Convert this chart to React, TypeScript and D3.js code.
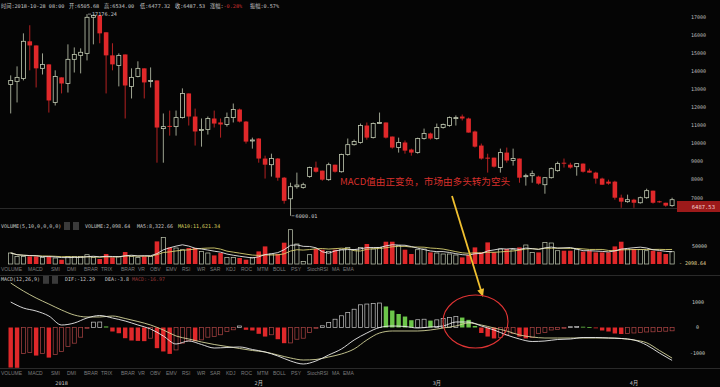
import React, { useEffect } from 'react';
import * as d3 from 'd3';

const width = 720;
const height = 387;

// daily candles, 2017-12-24 .. 2018-04-07
const opens = [13280, 13440, 13610, 15670, 15440, 14170, 14390, 12280, 13670, 13330, 14670, 14890, 15000, 17000, 17110, 16170, 14890, 14330, 14940, 13170, 13720, 14170, 13440, 13500, 10830, 10980, 10940, 11440, 12780, 11500, 10720, 10780, 11390, 11170, 11060, 11440, 11890, 11220, 10150, 10280, 9170, 8830, 9170, 8110, 6940, 7610, 7560, 8170, 8670, 8500, 8000, 8830, 8440, 9390, 9940, 10060, 11000, 10330, 11110, 11170, 10390, 9780, 10060, 9670, 9500, 10280, 10560, 10280, 10890, 11000, 11390, 11500, 11390, 10670, 9890, 9220, 9220, 8670, 9500, 9060, 9170, 8200, 8220, 8170, 7720, 8110, 8500, 8940, 8830, 8720, 8890, 8500, 8390, 8060, 7890, 7890, 7000, 6780, 6890, 6720, 7000, 7390, 6800, 6720, 6560];
const highs = [13780, 14280, 16110, 16560, 15440, 15000, 14390, 14060, 13670, 15500, 15330, 15280, 17176.24, 17150, 17110, 16170, 15560, 15000, 14940, 14170, 14560, 14170, 14220, 13500, 11670, 11830, 11830, 13060, 12780, 11940, 11390, 11500, 11830, 11390, 11720, 12220, 11940, 11250, 10330, 10300, 9330, 9440, 9200, 8150, 7830, 8390, 7830, 8720, 9000, 8500, 8940, 8830, 9440, 10280, 10220, 11110, 11170, 11170, 11720, 11170, 10390, 10330, 10170, 9720, 10330, 10830, 10610, 11110, 11110, 11500, 11560, 11610, 11440, 10720, 10000, 9440, 9220, 9720, 9780, 9720, 9170, 8330, 8500, 8220, 8110, 8670, 9000, 9170, 8940, 8890, 8900, 8610, 8440, 8110, 8000, 7940, 7170, 7170, 6940, 7060, 7500, 7390, 6830, 6720, 7000];
const lows = [11670, 12280, 13500, 14060, 13110, 13830, 11720, 12110, 12780, 12830, 13940, 13890, 14610, 15500, 15560, 12780, 14060, 13170, 11390, 12500, 13670, 12500, 13110, 8940, 8940, 10440, 10440, 11390, 11000, 9890, 9830, 10500, 10890, 10330, 10940, 11170, 11170, 10000, 9720, 8940, 8060, 8170, 7940, 6670, 6000.01, 7500, 7500, 8110, 8390, 7940, 7940, 8390, 8390, 9330, 9890, 10000, 10220, 10280, 11110, 10280, 9720, 9500, 9440, 9330, 9440, 10220, 10220, 10220, 10830, 10940, 11000, 11280, 10610, 9780, 9110, 8390, 8670, 8390, 8940, 8780, 7830, 7670, 7830, 7720, 7220, 8060, 8440, 8670, 8610, 8220, 8390, 8390, 7780, 7720, 7720, 6890, 6440, 6720, 6440, 6670, 6940, 6670, 6720, 6500, 6500];
const closes = [13500, 13670, 15670, 15440, 14170, 14390, 12390, 13720, 13330, 14670, 14940, 15060, 17000, 17110, 16110, 14890, 14390, 14890, 13220, 13670, 14170, 13390, 13500, 10890, 10940, 10940, 11440, 12780, 11500, 10670, 10780, 11390, 11110, 11060, 11440, 11890, 11220, 10110, 10200, 9170, 8830, 9170, 8110, 6830, 7610, 7700, 7720, 8670, 8440, 8000, 8830, 8440, 9390, 9940, 10110, 11000, 10330, 11110, 11170, 10330, 9780, 10060, 9610, 9500, 10280, 10560, 10280, 10890, 11060, 11440, 11440, 11390, 10610, 9830, 9170, 9200, 8720, 9500, 9060, 9170, 8110, 8220, 8330, 7780, 8110, 8610, 8890, 8900, 8670, 8890, 8440, 8390, 8060, 7720, 7780, 7000, 6780, 6890, 6720, 7000, 7390, 6720, 6780, 6560, 6890];
const volumes = [30600, 21100, 21100, 21100, 21100, 18300, 21100, 16700, 11900, 21100, 21100, 21100, 25800, 18300, 13900, 27800, 18300, 21100, 33300, 21100, 18300, 21100, 21100, 62800, 73900, 46100, 44400, 39700, 44400, 44400, 35000, 30600, 23900, 30600, 18300, 18300, 16700, 11900, 18300, 35000, 48900, 27800, 27800, 59200, 95300, 55600, 7200, 25800, 41700, 39700, 35000, 39700, 39700, 46100, 39700, 46100, 55600, 41700, 46100, 61900, 61900, 50800, 39700, 27800, 39700, 41700, 32200, 30600, 27800, 27800, 25000, 18300, 25000, 46100, 32200, 60000, 32200, 41700, 41700, 39700, 46100, 52800, 32200, 32200, 60000, 58300, 36900, 36900, 36900, 39700, 34200, 36900, 32200, 32200, 32200, 48900, 61900, 41700, 41700, 39700, 36900, 36900, 34200, 27800, 34200];

// MACD histogram, one value per candle
const macdHist = [-1570, -1580, -1020, -980, -1100, -1020, -1180, -1060, -940, -745, -615, -380, -20, 210, 215, 40, -157, -225, -420, -510, -525, -535, -420, -810, -940, -1035, -880, -615, -525, -535, -485, -380, -355, -285, -157, -90, 60, -90, -118, -247, -355, -285, -460, -615, -605, -460, -420, -196, -20, 67, 196, 325, 460, 590, 717, 890, 920, 940, 960, 825, 665, 530, 430, 285, 305, 325, 270, 300, 355, 390, 430, 390, 300, 60, -215, -355, -430, -390, -295, -235, -355, -430, -390, -235, -196, -98, -78, -20, 30, 40, 30, 12, -20, -118, -157, -235, -255, -235, -215, -196, -176, -169, -157, -145, -130];
// DIF / DEA read every second candle: [candle number, value]
const difPoints = [[1, 1000], [3, 764], [5, 647], [7, 451], [9, 98], [11, 176], [13, 372], [15, 470], [17, 372], [19, 255], [21, 98], [23, -59], [25, -333], [27, -647], [29, -529], [31, -666], [33, -804], [35, -784], [37, -764], [39, -862], [41, -960], [43, -1117], [45, -1313], [47, -1431], [49, -1313], [51, -1078], [53, -843], [55, -490], [57, -216], [59, 0], [61, 59], [63, 39], [65, -20], [67, 20], [69, 59], [71, 216], [73, 216], [75, 59], [77, -98], [79, -294], [81, -451], [83, -549], [85, -529], [87, -470], [89, -451], [91, -392], [93, -392], [95, -412], [97, -431], [99, -490], [101, -690], [103, -1000], [105, -1290]];
const deaPoints = [[1, 1744], [3, 1430], [5, 1156], [7, 921], [9, 686], [11, 490], [13, 412], [15, 412], [17, 451], [19, 353], [21, 235], [23, 98], [25, -98], [27, -333], [29, -451], [31, -568], [33, -666], [35, -745], [37, -823], [39, -902], [41, -960], [43, -1078], [45, -1196], [47, -1274], [49, -1254], [51, -1156], [53, -1039], [55, -843], [57, -490], [59, -216], [61, -137], [63, -137], [65, -137], [67, -98], [69, -20], [71, 59], [73, 176], [75, 98], [77, -20], [79, -137], [81, -294], [83, -372], [85, -412], [87, -412], [89, -412], [91, -412], [93, -412], [95, -412], [97, -431], [99, -490], [101, -600], [103, -900], [105, -1200]];

const priceTicks = [7000, 8000, 9000, 10000, 11000, 12000, 13000, 14000, 15000, 16000, 17000];
const monthCandles = [9, 40, 68, 99];
const monthLabels = ['2018', '2月', '3月', '4月'];
const tabNames = ['VOLUME', 'MACD', 'SMI', 'DMI', 'BRAR', 'TRIX', 'BRAR', 'VR', 'OBV', 'EMV', 'RSI', 'WR', 'SAR', 'KDJ', 'ROC', 'MTM', 'BOLL', 'PSY', 'StochRSI', 'MA', 'EMA'];
const tabLeft = [0, 27, 50, 66, 83, 100, 120, 137, 149, 165, 181, 196, 209, 225, 240, 256, 272, 290, 306, 331, 342];

const RED = '#e0282a';
const UP = '#c4ccb4';
const BG = '#050505';
const mono = "'DejaVu Sans Mono', 'Noto Sans CJK SC', monospace";

const movingAvg = (arr: number[], n: number) =>
  arr.map((_, i) => d3.mean(arr.slice(Math.max(0, i - n + 1), i + 1)) as number);

const Tabs = ({ y }: { y: number }) => (
  <g fontFamily="'Liberation Sans', Arial, sans-serif" fontSize={5} fill="#7c7c7c">
    {tabNames.map((t, i) => (
      <text key={i} x={tabLeft[i] + 1} y={y}>{t}</text>
    ))}
  </g>
);

export default function App() {
  useEffect(() => {
    document.body.style.margin = '0';
    document.body.style.background = BG;
  }, []);

  const n = closes.length;
  const x = d3.scaleLinear().domain([1, n]).range([10.7, 672.1]);
  const y = d3.scaleLinear().domain([7000, 17000]).range([197.7, 17.3]);
  const yVol = d3.scaleLinear().domain([0, 50000]).range([264, 246]);
  const yMacd = d3.scaleLinear().domain([-1000, 1000]).range([353, 302]);

  const bodyW = 4;
  const ma5 = movingAvg(volumes, 5);
  const ma10 = movingAvg(volumes, 10);
  const volLine = d3.line<number>().x((_, i) => x(i + 1)).y(v => yVol(v));
  const macdLine = d3.line<number[]>().x(d => x(d[0])).y(d => yMacd(d[1])).curve(d3.curveMonotoneX);

  const hiIdx = highs.indexOf(d3.max(highs) as number);
  const loIdx = lows.indexOf(d3.min(lows) as number);

  // arrow from annotation to the MACD cross
  const a0 = [452, 196];
  const a1 = [483, 297];
  const len = Math.hypot(a1[0] - a0[0], a1[1] - a0[1]);
  const ux = (a1[0] - a0[0]) / len;
  const uy = (a1[1] - a0[1]) / len;
  const head = `${a1[0]},${a1[1]} ${a1[0] - ux * 8 - uy * 3.5},${a1[1] - uy * 8 + ux * 3.5} ${a1[0] - ux * 8 + uy * 3.5},${a1[1] - uy * 8 - ux * 3.5}`;

  return (
    <svg width={width} height={height} style={{ position: 'fixed', left: 0, top: 0, display: 'block' }}>
      <rect width={width} height={height} fill={BG} />

      {/* pane separators */}
      <line x1={0} x2={width} y1={208.5} y2={208.5} stroke="#2a2a2a" strokeWidth={1} />
      <line x1={0} x2={width} y1={275.5} y2={275.5} stroke="#2a2a2a" strokeWidth={1} />
      <line x1={0} x2={width} y1={368.5} y2={368.5} stroke="#2a2a2a" strokeWidth={1} />

      {/* header */}
      <g fontFamily={mono} fontSize={5.2} fill="#c8c8c8">
        <text x={1} y={8}>时间:2018-10-28 08:00</text>
        <text x={69} y={8}>开:6505.68</text>
        <text x={104} y={8}>高:6534.00</text>
        <text x={140} y={8}>低:6477.32</text>
        <text x={175} y={8}>收:6487.53</text>
        <text x={210} y={8}>涨幅:<tspan fill="#d03030">-0.28%</tspan></text>
        <text x={250} y={8}>振幅:0.57%</text>
      </g>

      {/* price axis */}
      <g fontFamily={mono} fontSize={5} fill="#bdbdbd">
        {priceTicks.map(t => (
          <text key={t} x={691} y={y(t) + 1.8}>{t}</text>
        ))}
      </g>

      {/* candles */}
      {closes.map((c, i) => {
        const o = opens[i];
        const up = c >= o;
        const cx = x(i + 1);
        const top = y(Math.max(o, c));
        const h = Math.max(1, y(Math.min(o, c)) - top);
        return (
          <g key={i}>
            <line x1={cx} x2={cx} y1={y(highs[i])} y2={y(lows[i])} stroke={up ? UP : RED} strokeWidth={0.8} />
            {up ? (
              <rect x={cx - bodyW / 2} y={top} width={bodyW} height={h} fill={BG} stroke={UP} strokeWidth={0.8} />
            ) : (
              <rect x={cx - bodyW / 2 - 0.3} y={top} width={bodyW + 0.6} height={h} fill={RED} />
            )}
          </g>
        );
      })}

      {/* max / min marks */}
      <g fontFamily={mono} fontSize={5.2} fill="#d0d0d0">
        <line x1={x(hiIdx + 1) + 1} x2={x(hiIdx + 1) + 4} y1={y(highs[hiIdx])} y2={y(highs[hiIdx])} stroke="#d0d0d0" strokeWidth={0.6} />
        <text x={x(hiIdx + 1) + 5} y={y(highs[hiIdx]) + 1.8}>{d3.format('.2f')(highs[hiIdx])}</text>
        <line x1={x(loIdx + 1) + 1} x2={x(loIdx + 1) + 4} y1={y(lows[loIdx])} y2={y(lows[loIdx])} stroke="#d0d0d0" strokeWidth={0.6} />
        <text x={x(loIdx + 1) + 5} y={y(lows[loIdx]) + 1.8}>{d3.format('.2f')(lows[loIdx])}</text>
      </g>

      {/* last price box */}
      <rect x={677} y={201} width={43} height={11} fill="#9c1a1a" />
      <text x={715} y={208.5} textAnchor="end" fontFamily={mono} fontSize={5.5} fill="#f2d6d6">6487.53</text>

      {/* volume pane */}
      <g fontFamily={mono} fontSize={5} fill="#c8c8c8">
        <text x={1} y={228}>VOLUME(5,10,0,0,0,0)</text>
        <rect x={64} y={222} width={6} height={8} fill="#3a3a3a" />
        <rect x={73} y={222} width={6} height={8} fill="#3a3a3a" />
        <text x={85} y={228}>VOLUME:2,098.64</text>
        <text x={137} y={228}>MA5:8,322.66</text>
        <text x={178} y={228} fill="#d8d060">MA10:11,621.34</text>
      </g>
      {volumes.map((v, i) => {
        const up = closes[i] >= opens[i];
        const cx = x(i + 1);
        return up ? (
          <rect key={i} x={cx - 2.1} y={yVol(v)} width={4.2} height={yVol(0) - yVol(v)} fill={BG} stroke={UP} strokeWidth={0.7} />
        ) : (
          <rect key={i} x={cx - 2.3} y={yVol(v)} width={4.6} height={yVol(0) - yVol(v)} fill={RED} />
        );
      })}
      <path d={volLine(ma10) as string} fill="none" stroke="#d8d070" strokeWidth={0.9} />
      <path d={volLine(ma5) as string} fill="none" stroke="#e8e8e8" strokeWidth={0.9} />
      <g fontFamily={mono} fontSize={5} fill="#c8c8c8">
        <text x={692} y={yVol(50000) + 1.8}>50000</text>
        <text x={679} y={yVol(2098.64) + 1.8} fill="#e4dc9a">- 2098.64</text>
      </g>

      <Tabs y={271} />

      {/* MACD pane */}
      <g fontFamily={mono} fontSize={5} fill="#c8c8c8">
        <text x={1} y={281}>MACD(12,26,9)</text>
        <rect x={43} y={275.8} width={6} height={8} fill="#3a3a3a" />
        <rect x={52} y={275.8} width={6} height={8} fill="#3a3a3a" />
        <text x={65} y={281}>DIF:-12.29</text>
        <text x={105} y={281}>DEA:-3.8</text>
        <text x={132} y={281} fill="#9a3a3a">MACD:-16.97</text>
      </g>
      {macdHist.map((v, i) => {
        const prev = i > 0 ? macdHist[i - 1] : v;
        const rising = v > prev;
        const cx = x(i + 1);
        const top = yMacd(Math.max(0, v));
        const h = Math.max(0.8, Math.abs(yMacd(v) - yMacd(0)));
        if (v >= 0) {
          return rising ? (
            <rect key={i} x={cx - 2} y={top} width={4} height={h} fill={BG} stroke="#c8c8c8" strokeWidth={0.7} />
          ) : (
            <rect key={i} x={cx - 2.2} y={top} width={4.4} height={h} fill="#6cc64a" />
          );
        }
        return rising ? (
          <rect key={i} x={cx - 2} y={top} width={4} height={h} fill={BG} stroke="#b04646" strokeWidth={0.7} />
        ) : (
          <rect key={i} x={cx - 2.2} y={top} width={4.4} height={h} fill={RED} />
        );
      })}
      <path d={macdLine(deaPoints) as string} fill="none" stroke="#d4d49a" strokeWidth={0.9} />
      <path d={macdLine(difPoints) as string} fill="none" stroke="#ececec" strokeWidth={0.9} />
      <g fontFamily={mono} fontSize={5} fill="#c8c8c8">
        <text x={692} y={yMacd(1000) + 1.8}>1000</text>
        <text x={696} y={yMacd(0) + 1.8}>0</text>
        <text x={690} y={yMacd(-1000) + 1.8}>-1000</text>
      </g>

      <Tabs y={375} />

      {/* date axis */}
      <g fontFamily={mono} fontSize={5.2} fill="#c8c8c8">
        {monthCandles.map((m, i) => (
          <text key={m} x={x(m)} y={385} textAnchor="middle">{monthLabels[i]}</text>
        ))}
      </g>

      {/* annotation */}
      <text x={340} y={184.5} fontFamily="'Noto Sans CJK SC', sans-serif" fontSize={9.6} fill="#d8302c">
        MACD值由正变负，市场由多头转为空头
      </text>
      <line x1={a0[0]} y1={a0[1]} x2={a1[0] - ux * 6} y2={a1[1] - uy * 6} stroke="#f0c030" strokeWidth={1.8} />
      <polygon points={head} fill="#f0c030" />
      <ellipse cx={475.5} cy={321.5} rx={32.5} ry={26.5} fill="none" stroke="#e03434" strokeWidth={1.1} />
    </svg>
  );
}
